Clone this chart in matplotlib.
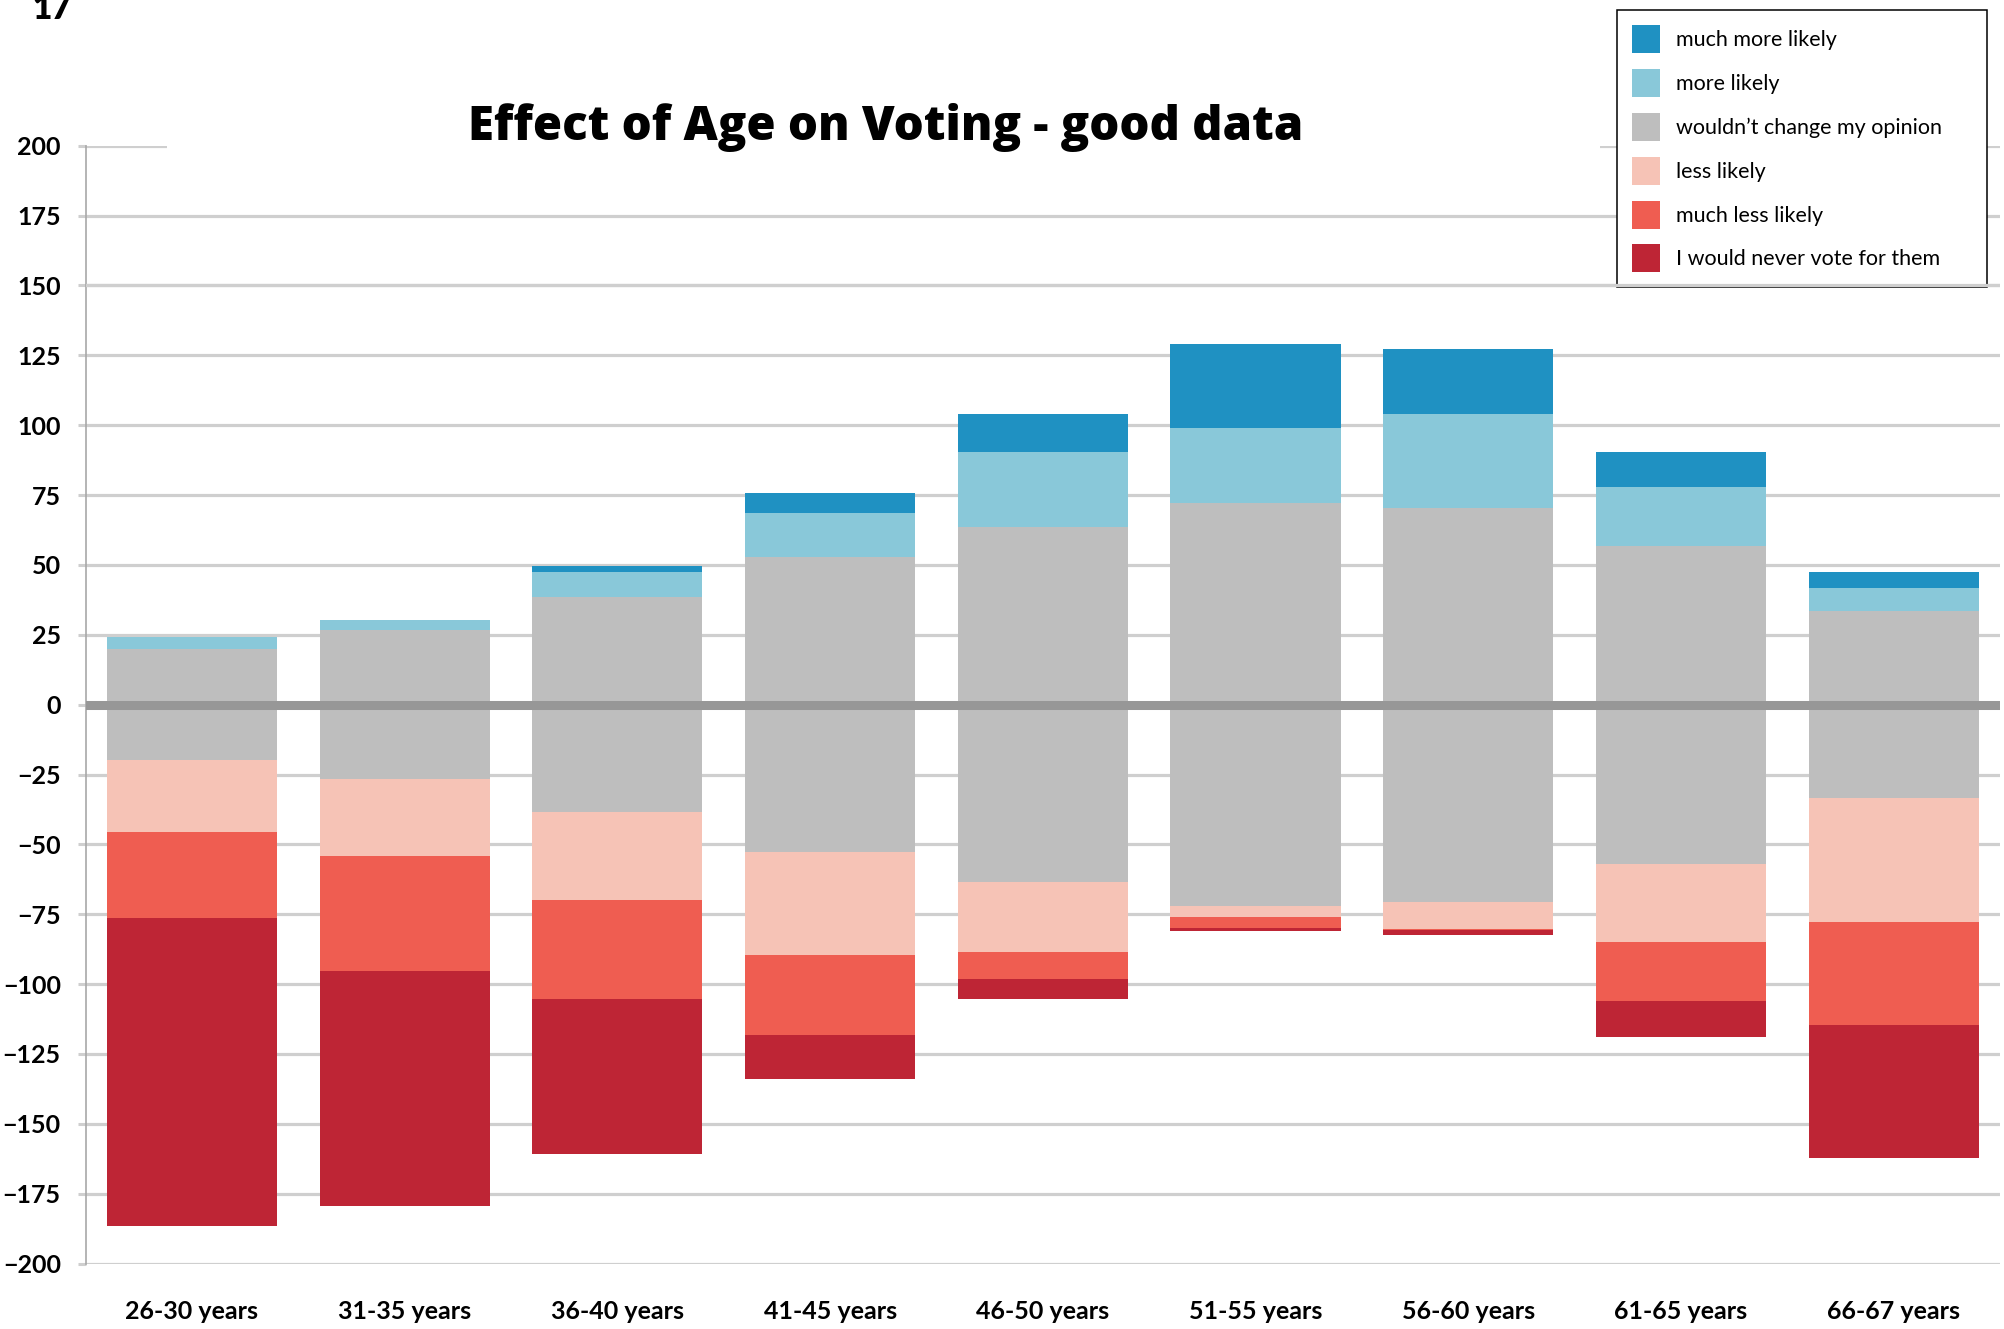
import matplotlib.pyplot as plt
import numpy as np
from matplotlib.patches import Rectangle

plt.rcParams['font.family'] = ['Lato', 'DejaVu Sans']

age_groups = ['26-30 years', '31-35 years', '36-40 years', '41-45 years', '46-50 years',
              '51-55 years', '56-60 years', '61-65 years', '66-67 years']

# stacked segment sizes
much_more = [0.0, 0.0, 2.3, 7.1, 13.5, 29.9, 23.3, 12.8, 5.6]
more = [4.2, 3.7, 8.8, 15.7, 27.0, 27.1, 33.6, 20.9, 8.2]
no_change = [39.8, 53.3, 77.0, 105.7, 127.1, 144.1, 140.9, 113.7, 67.0]  # split half up / half down
less = [25.7, 27.5, 31.3, 36.8, 24.8, 4.1, 9.9, 27.9, 44.1]
much_less = [30.7, 41.2, 35.5, 28.6, 9.8, 3.6, 0.4, 21.4, 37.1]
never = [110.1, 83.9, 55.4, 15.6, 7.2, 1.4, 1.8, 12.7, 47.5]

labels = ['much more likely', 'more likely', 'wouldn\u2019t change my opinion',
          'less likely', 'much less likely', 'I would never vote for them']
colors = ['#1f91c2', '#89c8d9', '#bebebe', '#f6c3b6', '#ef5d51', '#be2535']

grid_col = '#cfcfcf'

fig = plt.figure(figsize=(20.04, 13.29), dpi=100)
ax = fig.add_axes([0.0427, 0.0492, 0.9553, 0.8412])

x = np.arange(len(age_groups))
half = np.array(no_change) / 2
w = 0.8

# upper half
b_nc = ax.bar(x, half, w, color=colors[2], linewidth=0, zorder=2)
b_more = ax.bar(x, more, w, bottom=half, color=colors[1], linewidth=0, zorder=2)
b_mm = ax.bar(x, much_more, w, bottom=half + np.array(more), color=colors[0], linewidth=0, zorder=2)

# lower half
ax.bar(x, -half, w, color=colors[2], linewidth=0, zorder=2)
base = -half
b_less = ax.bar(x, -np.array(less), w, bottom=base, color=colors[3], linewidth=0, zorder=2)
base = base - np.array(less)
b_ml = ax.bar(x, -np.array(much_less), w, bottom=base, color=colors[4], linewidth=0, zorder=2)
base = base - np.array(much_less)
b_nv = ax.bar(x, -np.array(never), w, bottom=base, color=colors[5], linewidth=0, zorder=2)

ax.axhline(0, color='#979797', lw=6.5, zorder=3)

ax.set_xlim(-0.5, len(age_groups) - 0.5)
ax.set_ylim(-200, 200)
ax.set_yticks(np.arange(-200, 201, 25))
ax.set_xticks(x)
ax.set_xticklabels(age_groups)

ax.yaxis.grid(True, color=grid_col, lw=2.3)
ax.set_axisbelow(True)
for s in ['top', 'right', 'bottom']:
    ax.spines[s].set_visible(False)
ax.spines['left'].set_color('#a8a8a8')
ax.spines['left'].set_linewidth(1.2)

ax.tick_params(axis='y', length=5.8, width=2.2, color=grid_col, pad=12, labelsize=18)
ax.tick_params(axis='x', length=0, pad=26, labelsize=18)
for lbl in ax.get_xticklabels() + ax.get_yticklabels():
    lbl.set_fontweight('bold')

# white box behind the title hides part of the top gridline
ax.add_patch(Rectangle((0.0425, 0.985), 0.7485, 0.03, transform=ax.transAxes,
                       facecolor='white', edgecolor='none', clip_on=False, zorder=1.5))

fig.text(0.442, 1 - 140 / 1329, 'Effect of Age on Voting - good data', ha='center',
         va='baseline', fontsize=34, fontweight='heavy',
         family=['Open Sans', 'DejaVu Sans'])
fig.text(32 / 2004, 1 - 19 / 1329, '17', ha='left', va='baseline', fontsize=24, fontweight='heavy')

leg_top = 1 - 10 / 1329
leg = ax.legend([b_mm, b_more, b_nc, b_less, b_ml, b_nv], labels,
                loc='upper left', bbox_to_anchor=(1616.7 / 2004, leg_top - 0.3, 370 / 2004, 0.3),
                bbox_transform=fig.transFigure, mode='expand', borderaxespad=0,
                fontsize=15.5, handlelength=1.30, handleheight=1.62, labelspacing=0.74,
                handletextpad=0.75, borderpad=0.70, fancybox=False, framealpha=1,
                edgecolor='black')
leg.get_frame().set_linewidth(1.1)
leg.set_zorder(5)

# the 150 gridline runs over the legend's bottom edge
ax.axhline(150, color=grid_col, lw=2.3, zorder=6)

plt.savefig('out.png', dpi=100)
